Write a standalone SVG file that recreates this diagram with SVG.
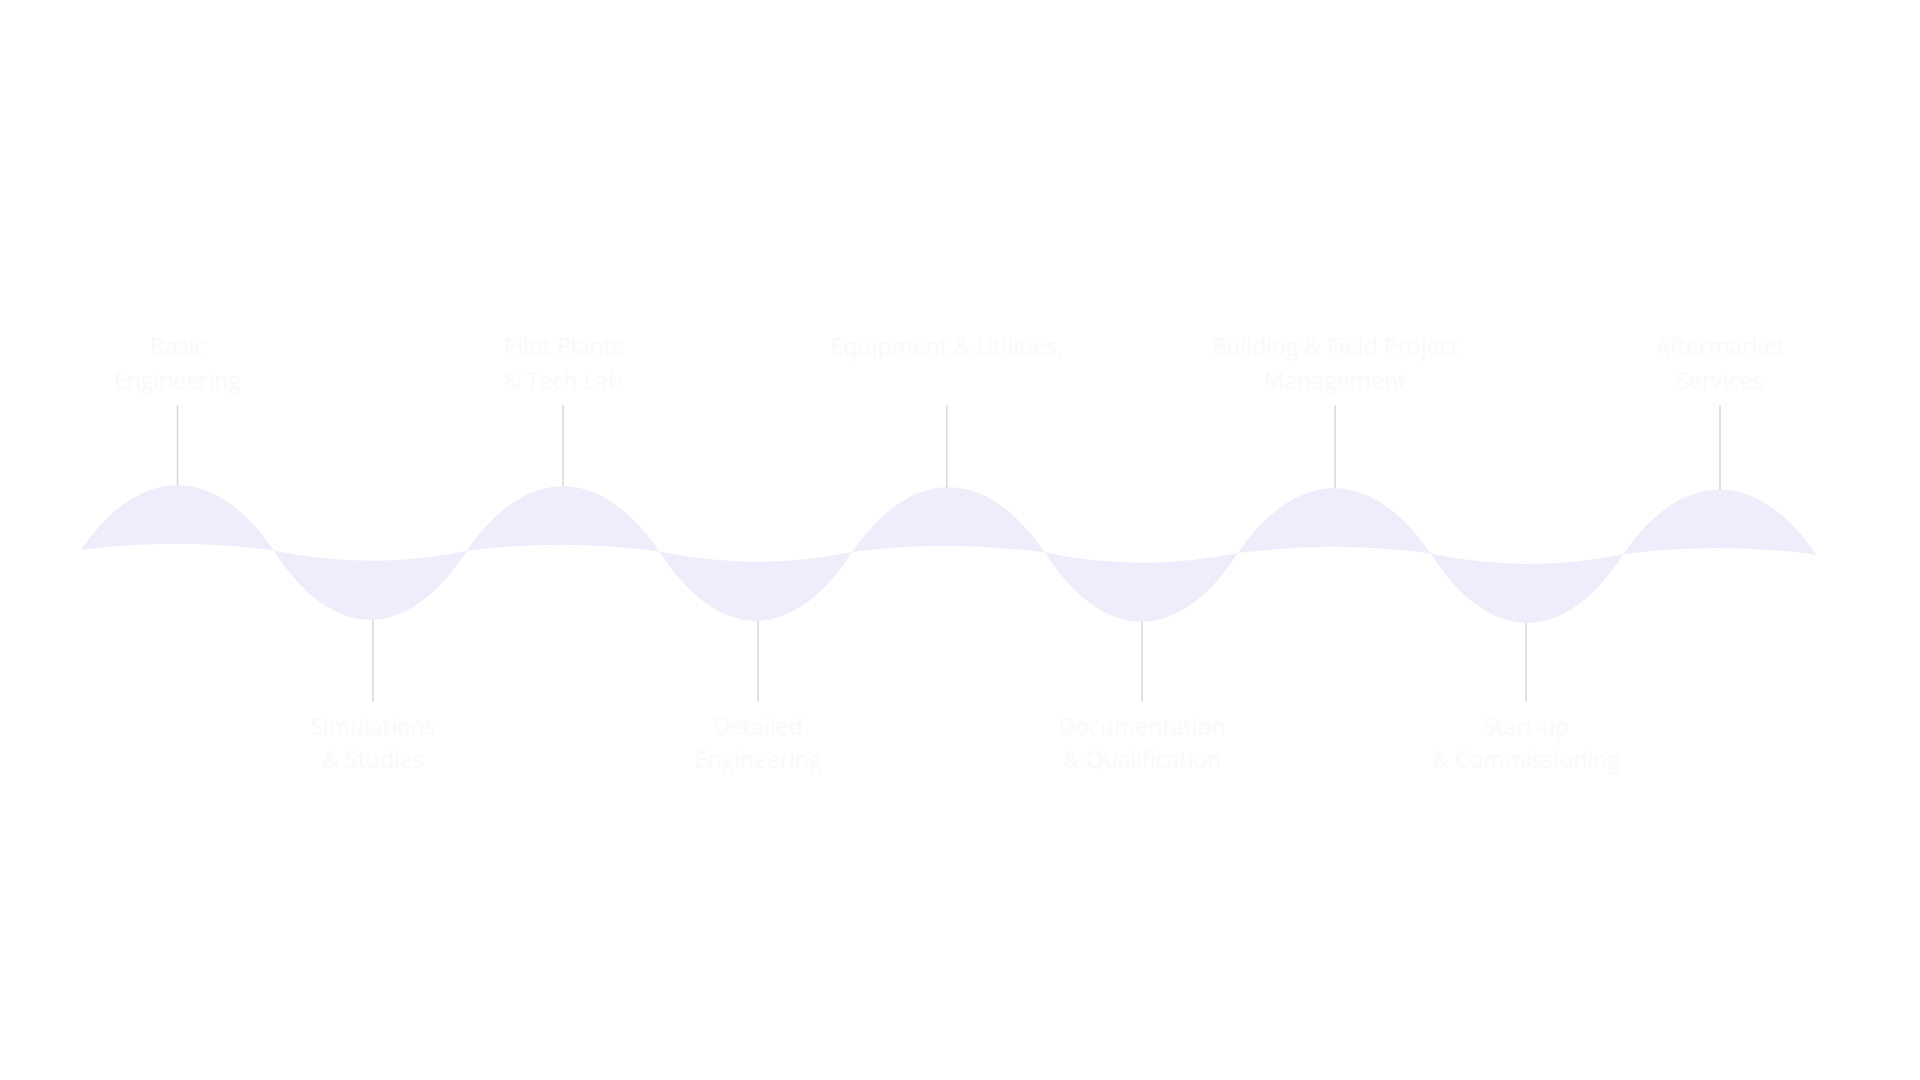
<svg xmlns="http://www.w3.org/2000/svg" width="1920" height="1080" viewBox="0 0 1920 1080">
<style>
.lobe{fill:#efedfc;stroke:none}
.lbl{font-family:"Open Sans","Noto Sans","Liberation Sans",sans-serif;font-size:23px;fill:#fafafb;text-anchor:middle}
.conn{stroke:#dadada;stroke-width:1.6;fill:none}
</style>
<rect width="1920" height="1080" fill="#ffffff"/>
<g id="connectors">
<line class="conn" x1="177.5" y1="405" x2="177.5" y2="486"/>
<line class="conn" x1="563" y1="405" x2="563" y2="487"/>
<line class="conn" x1="946.7" y1="405" x2="946.7" y2="488"/>
<line class="conn" x1="1335" y1="405" x2="1335" y2="489"/>
<line class="conn" x1="1720" y1="405" x2="1720" y2="490"/>
<line class="conn" x1="373" y1="619" x2="373" y2="701.5"/>
<line class="conn" x1="758" y1="620" x2="758" y2="701.5"/>
<line class="conn" x1="1142" y1="621" x2="1142" y2="701.5"/>
<line class="conn" x1="1526" y1="622" x2="1526" y2="701.5"/>
</g>
<g id="node-basic-engineering">
<path class="lobe" d="M81,550 C140,463.55 214.8,463.55 273.8,550.5 Q177.4,537.25 81,550 Z"/>
<text class="lbl" x="177.5" y="355">Basic</text>
<text class="lbl" x="177.5" y="389">Engineering</text>
</g>
<g id="node-simulations-studies">
<path class="lobe" d="M273.8,550.5 C332.8,642.75 407.6,642.75 466.6,551 Q370.2,570.75 273.8,550.5 Z"/>
<text class="lbl" x="373" y="735">Simulations</text>
<text class="lbl" x="373" y="768">&amp; Studies</text>
</g>
<g id="node-pilot-plants">
<path class="lobe" d="M466.6,551 C525.6,464.6 600.4,464.6 659.4,551.6 Q563,538.3 466.6,551 Z"/>
<text class="lbl" x="563" y="355">Pilot Plants</text>
<text class="lbl" x="563" y="389">&amp; Tech Lab</text>
</g>
<g id="node-detailed-engineering">
<path class="lobe" d="M659.4,551.6 C718.4,643.85 793.2,643.85 852.2,552.1 Q755.8,571.85 659.4,551.6 Z"/>
<text class="lbl" x="758" y="735">Detailed</text>
<text class="lbl" x="758" y="768">Engineering</text>
</g>
<g id="node-equipment-utilities">
<path class="lobe" d="M852.2,552.1 C911.2,465.65 986,465.65 1045,552.6 Q948.6,539.35 852.2,552.1 Z"/>
<text class="lbl" x="946.7" y="355">Equipment &amp; Utilities,</text>
</g>
<g id="node-documentation-qualification">
<path class="lobe" d="M1045,552.6 C1104,644.85 1178.8,644.85 1237.8,553.1 Q1141.4,572.85 1045,552.6 Z"/>
<text class="lbl" x="1142" y="735">Documentation</text>
<text class="lbl" x="1142" y="768">&amp; Qualification</text>
</g>
<g id="node-building-field">
<path class="lobe" d="M1237.8,553.1 C1296.8,466.65 1371.6,466.65 1430.6,553.6 Q1334.2,540.35 1237.8,553.1 Z"/>
<text class="lbl" x="1335" y="355">Building &amp; Field Project</text>
<text class="lbl" x="1335" y="389">Management</text>
</g>
<g id="node-startup-commissioning">
<path class="lobe" d="M1430.6,553.6 C1489.6,645.9 1564.4,645.9 1623.4,554.2 Q1527,573.9 1430.6,553.6 Z"/>
<text class="lbl" x="1526" y="735">Start-up</text>
<text class="lbl" x="1526" y="768">&amp; Commissioning</text>
</g>
<g id="node-aftermarket-services">
<path class="lobe" d="M1623.4,554.2 C1682.4,467.75 1757.2,467.75 1816.2,554.7 Q1719.8,541.45 1623.4,554.2 Z"/>
<text class="lbl" x="1720" y="355">Aftermarket</text>
<text class="lbl" x="1720" y="389">Services</text>
</g>
</svg>
